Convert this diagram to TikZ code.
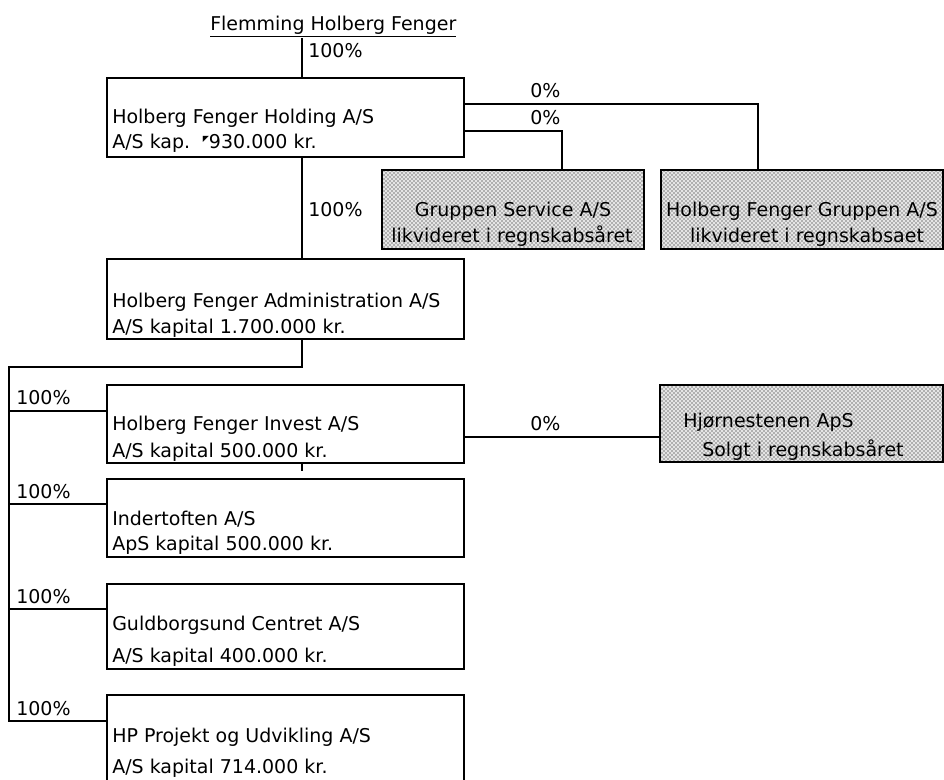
\documentclass[tikz,border=0pt]{standalone}
\usepackage{fontspec}
\setmainfont{DejaVu Sans}
\usetikzlibrary{fit,patterns}
\begin{document}
\begin{tikzpicture}[x=0.75pt,y=-0.75pt,
  box/.style={draw=black,line width=0.8pt,inner sep=0pt,fill=white},
  greybox/.style={draw=black,line width=1pt,inner sep=0pt,fill=black!10,
    postaction={pattern=crosshatch dots,pattern color=black}},
  txt/.style={inner sep=0pt,anchor=base west,font=\fontsize{14.25}{17}\selectfont},
  ctxt/.style={inner sep=0pt,anchor=base,font=\fontsize{14.25}{17}\selectfont},
  conn/.style={draw=black,line width=0.8pt}]
\useasboundingbox (0,0) rectangle (944,779);
\clip (0,0) rectangle (944,779);

% owner
\node[txt] (owner) at (210,30) {\underline{Flemming Holberg Fenger}};

% boxes
\node[box,fit={(107,78) (464,157)}] (hold) {};
\node[box,fit={(107,259) (464,339)}] (admin) {};
\node[box,fit={(107,385) (464,463)}] (inv) {};
\node[box,fit={(107,479) (464,557)}] (ind) {};
\node[box,fit={(107,584) (464,669)}] (guld) {};
\node[box,fit={(107,695) (464,820)}] (hp) {};
\node[greybox,fit={(382,170) (644,249)}] (gs) {};
\node[greybox,fit={(661,170) (943,249)}] (hfg) {};
\node[greybox,fit={(660,385) (943,462)}] (hj) {};

% box texts
\node[txt] (hold1) at (112,123) {Holberg Fenger Holding A/S};
\node[txt] (hold2) at (112,148) {A/S kap.\hspace{9.5pt}\raisebox{5pt}{\fontsize{6}{6}\selectfont ◤}930.000 kr.};
\node[txt] (admin1) at (112,307) {Holberg Fenger Administration A/S};
\node[txt] (admin2) at (112,333) {A/S kapital 1.700.000 kr.};
\node[txt] (inv1) at (112,430) {Holberg Fenger Invest A/S};
\node[txt] (inv2) at (112,457) {A/S kapital 500.000 kr.};
\node[txt] (ind1) at (112,525) {Indertoften A/S};
\node[txt] (ind2) at (112,550) {ApS kapital 500.000 kr.};
\node[txt] (guld1) at (112,630) {Guldborgsund Centret A/S};
\node[txt] (guld2) at (112,662) {A/S kapital 400.000 kr.};
\node[txt] (hp1) at (112,742) {HP Projekt og Udvikling A/S};
\node[txt] (hp2) at (112,773) {A/S kapital 714.000 kr.};
\node[ctxt] (gs1) at (513,216) {Gruppen Service A/S};
\node[ctxt] (gs2) at (512,242) {likvideret i regnskabsåret};
\node[ctxt] (hfg1) at (802,216) {Holberg Fenger Gruppen A/S};
\node[ctxt] (hfg2) at (807,242) {likvideret i regnskabsaet};
\node[txt] (hj1) at (683,427) {Hjørnestenen ApS};
\node[txt] (hj2) at (702,456) {Solgt i regnskabsåret};

% percent labels
\node[txt] (p1) at (308,57) {100\%};
\node[txt] (p2) at (530,97) {0\%};
\node[txt] (p3) at (530,124) {0\%};
\node[txt] (p4) at (308,216) {100\%};
\node[txt] (p5) at (530,430) {0\%};
\node[txt] (p6) at (16,404) {100\%};
\node[txt] (p7) at (16,498) {100\%};
\node[txt] (p8) at (16,603) {100\%};
\node[txt] (p9) at (16,715) {100\%};

% junction coordinates
\coordinate (top) at (302,38);
\coordinate (vx) at (302,0);
\coordinate (j1) at (758,104);
\coordinate (j2) at (562,131);
\coordinate (j3) at (0,437);
\coordinate (bus) at (9,367);
\coordinate (b1) at (9,411);
\coordinate (b2) at (9,504);
\coordinate (b3) at (9,609);
\coordinate (b4) at (9,721);
\coordinate (stub) at (302,471);

% connectors
\draw[conn] (top) -- (top |- hold.north);
\draw[conn] (hold.east |- j1) -- (j1) -- (j1 |- hfg.north);
\draw[conn] (hold.east |- j2) -- (j2) -- (j2 |- gs.north);
\draw[conn] (hold.south -| vx) -- (admin.north -| vx);
\draw[conn] (admin.south -| vx) -- (vx |- bus) -- (bus) -- (b4) -- (b4 -| hp.west);
\draw[conn] (b1) -- (b1 -| inv.west);
\draw[conn] (b2) -- (b2 -| ind.west);
\draw[conn] (b3) -- (b3 -| guld.west);
\draw[conn] (inv.east |- j3) -- (hj.west |- j3);
\draw[conn] (inv.south -| vx) -- (stub);
\end{tikzpicture}
\end{document}
